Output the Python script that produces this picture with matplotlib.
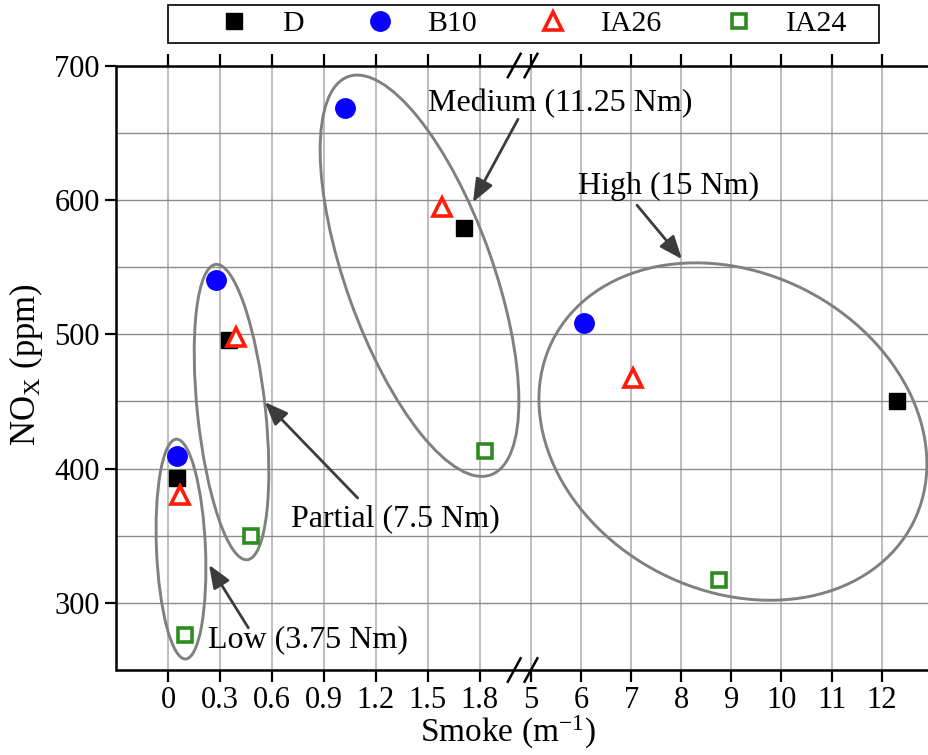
import numpy as np
import matplotlib
matplotlib.use('Agg')
import matplotlib.pyplot as plt
from matplotlib.patches import Ellipse, Rectangle
from matplotlib.lines import Line2D
from matplotlib.transforms import ScaledTranslation

plt.rcParams['font.family'] = ['Liberation Serif', 'DejaVu Serif']
plt.rcParams['mathtext.fontset'] = 'custom'
plt.rcParams['mathtext.rm'] = 'Liberation Serif'
plt.rcParams['mathtext.it'] = 'Liberation Serif:italic'

# ---------------- data ----------------
series = ['D', 'B10', 'IA26', 'IA24']
loads = ['Low (3.75 Nm)', 'Partial (7.5 Nm)', 'Medium (11.25 Nm)', 'High (15 Nm)']
smoke_D = [0.05, 0.35, 1.71, 12.30]
nox_D = [393, 496, 579, 450]
smoke_B10 = [0.05, 0.28, 1.02, 6.06]
nox_B10 = [409, 540, 668, 508]
smoke_IA26 = [0.07, 0.39, 1.58, 7.04]
nox_IA26 = [380, 498, 595, 467]
smoke_IA24 = [0.10, 0.48, 1.83, 8.75]
nox_IA24 = [276, 350, 413, 317]

xtick_values = [0, 0.3, 0.6, 0.9, 1.2, 1.5, 1.8, 5, 6, 7, 8, 9, 10, 11, 12]
xtick_labels = ['0', '0.3', '0.6', '0.9', '1.2', '1.5', '1.8', '5', '6', '7',
                '8', '9', '10', '11', '12']
ytick_values = [300, 400, 500, 600, 700]
yminor_values = [250, 350, 450, 550, 650]

# ---------------- broken x scale ----------------
LEFT_K = 3.455
X_END = 2.05
X_RESUME = 4.86
SHIFT = 2.245
U_END = X_END * LEFT_K
U_RES = X_RESUME + SHIFT


def fwd(x):
    x = np.asarray(x, float)
    mid = U_END + (x - X_END) * (U_RES - U_END) / (X_RESUME - X_END)
    return np.where(x <= X_END, x * LEFT_K, np.where(x >= X_RESUME, x + SHIFT, mid))


def inv(u):
    u = np.asarray(u, float)
    mid = X_END + (u - U_END) * (X_RESUME - X_END) / (U_RES - U_END)
    return np.where(u <= U_END, u / LEFT_K, np.where(u >= U_RES, u - SHIFT, mid))


fig = plt.figure(figsize=(9.29, 7.55), dpi=100)
ax = fig.add_axes([116.5 / 929, 85 / 755, (929 - 116.5) / 929, 604.5 / 755])
ax.set_xscale('function', functions=(fwd, inv))
ax.set_xlim(-0.2975, 12.944)
ax.set_ylim(250, 700)

ax.set_xticks(xtick_values)
ax.set_xticklabels(xtick_labels)
ax.set_yticks(ytick_values)
ax.set_yticks(yminor_values, minor=True)
ax.xaxis.set_minor_locator(matplotlib.ticker.NullLocator())

ax.grid(axis='x', which='major', color='#b8b8b8', lw=1.3, zorder=0)
ax.grid(axis='y', which='both', color='#8c8c8c', lw=1.0, zorder=0)
ax.set_axisbelow(True)

ax.tick_params(axis='x', which='major', direction='out', top=True, bottom=True,
               length=8.5, width=1.6, labelsize=22, pad=3)
ax.tick_params(axis='y', which='major', direction='out', left=True, right=False,
               length=8, width=1.6, labelsize=22, pad=4)
ax.tick_params(axis='y', which='minor', length=0)
for s in ['top', 'bottom', 'left']:
    ax.spines[s].set_linewidth(1.8)
ax.spines['right'].set_visible(False)

# ---------------- ellipses (group outlines) ----------------
ell_cx = [0.075, 0.367, 1.453, 9.03]
ell_cy = [340, 442, 543.5, 427.5]
ell_w = [2.20, 2.97, 4.23, 4.04]
ell_h = [0.49, 0.68, 1.47, 3.18]
ell_ang = [-87.6, -83.9, -70.3, -26.9]
for cx, cy, w, h, a in zip(ell_cx, ell_cy, ell_w, ell_h, ell_ang):
    tr = fig.dpi_scale_trans + ScaledTranslation(cx, cy, ax.transData)
    e = Ellipse((0, 0), w, h, angle=a, transform=tr, fill=False,
                edgecolor='#808080', lw=2.1, zorder=3)
    ax.add_patch(e)

# ---------------- markers ----------------
c_green = '#2e8b1e'
ax.plot(smoke_D, nox_D, 's', color='black', ms=11.5, ls='none', zorder=5, label='D')
ax.plot(smoke_B10, nox_B10, 'o', color='#0a00ff', ms=14, ls='none', zorder=5, label='B10')
ax.plot(smoke_IA26, nox_IA26, '^', mfc='white', mec='#ff1a0a', mew=2.6, ms=12.5,
        ls='none', zorder=6, label='IA26')
ax.plot(smoke_IA24, nox_IA24, 's', mfc='white', mec=c_green, mew=2.6, ms=9.5,
        ls='none', zorder=6, label='IA24')

# ---------------- annotations ----------------
text_x = [0.231, 0.711, 1.502, 5.938]
text_y = [272.3, 362.3, 671.9, 610.0]
arrow_tail = [(0.464, 281.4), (1.096, 378.0), (2.022, 660.0), (7.116, 596.0)]
arrow_head = [(0.237, 328.3), (0.560, 449.4), (1.762, 598.2), (8.014, 555.8)]
for lab, tx, ty, t, hd in zip(loads, text_x, text_y, arrow_tail, arrow_head):
    ax.text(tx, ty, lab, fontsize=23, ha='left', va='center', zorder=7)
    ax.annotate('', xy=hd, xytext=t,
                arrowprops=dict(arrowstyle='-|>,head_length=0.7,head_width=0.28',
                                color='#3c3c3c', lw=2.0, mutation_scale=20,
                                shrinkA=0, shrinkB=0), zorder=7)

# ---------------- break marks ----------------
break_x = [2.0, 5.0]
for bx in break_x:
    for yy in (0, 1):
        tr = fig.dpi_scale_trans + ScaledTranslation(bx, yy, ax.get_xaxis_transform())
        ax.add_line(Line2D([-0.064, 0.064], [-0.117, 0.117], transform=tr,
                           color='black', lw=1.8, clip_on=False, zorder=8))

# ---------------- labels ----------------
ax.set_xlabel('Smoke (m$^{\\mathrm{-1}}$)', fontsize=24, labelpad=0)
ax.xaxis.set_label_coords((508 - 116.5) / 812.5, -0.073)
ax.set_ylabel('NO$_\\mathrm{X}$ (ppm)', fontsize=25)
ax.yaxis.set_label_coords(-0.088, 0.505)

# ---------------- legend ----------------
fig.patches.append(Rectangle((168 / 929, 1 - 43 / 755), (879 - 168) / 929, 38 / 755,
                             transform=fig.transFigure, fill=False,
                             edgecolor='black', lw=1.2))
handles, labels = ax.get_legend_handles_labels()
fig.legend(handles, labels, loc='center', bbox_to_anchor=(526 / 929, 1 - 24 / 755),
           ncol=4, frameon=False, fontsize=21.5, handlelength=2.0,
           handletextpad=0.6, columnspacing=1.55, borderpad=0.2)

fig.savefig('out.png', dpi=100)
